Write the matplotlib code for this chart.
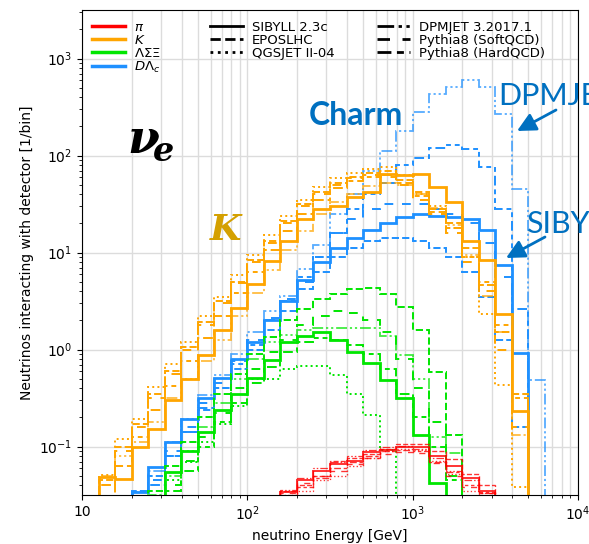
import numpy as np
import matplotlib
matplotlib.use('Agg')
import matplotlib.pyplot as plt
from matplotlib.lines import Line2D

# ---------------- data ----------------
log_edges = np.arange(1.0, 4.0001, 0.1)          # log10(E/GeV) bin edges, 10 bins/decade
edges = 10 ** log_edges

generators = ['SIBYLL 2.3c', 'EPOSLHC', 'QGSJET II-04',
              'DPMJET 3.2017.1', 'Pythia8 (SoftQCD)', 'Pythia8 (HardQCD)']
particle_labels = [r'$\pi$', r'$K$', r'$\Lambda\Sigma\Xi$', r'$D\Lambda_c$']

# pions
pi_sibyll = [0]*12 + [0.034, 0.045, 0.056, 0.066, 0.071, 0.087, 0.093, 0.10, 0.10, 0.079, 0.063, 0.047, 0.035] + [0]*5
pi_epos   = [0]*12 + [0.035, 0.040, 0.050, 0.071, 0.076, 0.083, 0.095, 0.105, 0.105, 0.089, 0.074, 0.052, 0.040] + [0]*5
pi_qgsjet = [0]*12 + [0.032, 0.035, 0.045, 0.050, 0.063, 0.076, 0.089, 0.095, 0.091, 0.071, 0.052, 0.035, 0] + [0]*5
pi_dpmjet = [0]*12 + [0.036, 0.047, 0.060, 0.069, 0.079, 0.091, 0.100, 0.102, 0.095, 0.076, 0.056, 0.045, 0.033] + [0]*5
pi_pysoft = [0]*12 + [0.033, 0.042, 0.050, 0.056, 0.066, 0.076, 0.083, 0.087, 0.085, 0.068, 0.050, 0.038, 0.033] + [0]*5
pi_pyhard = [0]*12 + [0.031, 0.038, 0.047, 0.060, 0.070, 0.080, 0.090, 0.093, 0.090, 0.070, 0.055, 0.040, 0.034] + [0]*5

# kaons
K_sibyll = [0, 0.048, 0.046, 0.10, 0.15, 0.30, 0.50, 0.87, 1.6, 2.7,
            4.7, 8.1, 13, 22, 28, 30, 37, 42, 65, 63,
            65, 47, 33, 13, 8.3, 2.3, 0.23, 0, 0, 0]
K_epos   = [0, 0.045, 0.10, 0.17, 0.35, 0.60, 1.07, 1.9, 3.2, 5.0,
            8.3, 13, 21, 32, 42, 52, 60, 66, 69, 56,
            42, 28, 20, 11, 4.6, 1.5, 0.35, 0, 0, 0]
K_qgsjet = [0, 0.051, 0.12, 0.19, 0.41, 0.71, 1.2, 2.2, 3.5, 5.8,
            9.5, 15, 24, 35, 47, 58, 66, 72, 76, 63,
            40, 30, 18, 8.9, 2.3, 0.43, 0.038, 0, 0, 0]
K_dpmjet = [0, 0.05, 0.079, 0.11, 0.18, 0.32, 0.50, 0.76, 1.26, 2.2,
            3.8, 6.6, 10.7, 16.6, 25, 33, 40, 48, 52, 50,
            40, 29, 19, 9.5, 3.6, 1.5, 0.13, 0, 0, 0]
K_pysoft = [0, 0, 0.089, 0.16, 0.32, 0.56, 1.0, 1.8, 3.0, 4.8,
            7.9, 12.6, 20, 30, 40, 50, 59, 63, 60, 50,
            35, 25, 16, 7.9, 4.0, 1.0, 0.16, 0, 0, 0]
K_pyhard = [0, 0.04, 0.063, 0.126, 0.24, 0.42, 0.76, 1.3, 2.2, 3.8,
            6.3, 10.5, 16.6, 25, 35, 46, 55, 60, 63, 52,
            38, 26, 18, 8.9, 5.0, 1.8, 0.32, 0, 0, 0]

# hyperons
L_sibyll = [0, 0, 0, 0, 0, 0.054, 0.089, 0.14, 0.24, 0.35,
            0.51, 0.78, 1.19, 1.38, 1.5, 1.26, 0.95, 0.72, 0.48, 0.32,
            0.13, 0.042, 0, 0, 0, 0, 0, 0, 0, 0]
L_epos   = [0, 0, 0, 0, 0.035, 0.063, 0.11, 0.20, 0.35, 0.56,
            0.89, 1.35, 2.0, 2.6, 3.3, 3.7, 4.2, 4.3, 3.7, 2.75,
            1.6, 0.58, 0.13, 0, 0, 0, 0, 0, 0, 0]
L_qgsjet = [0, 0, 0, 0, 0, 0.045, 0.069, 0.11, 0.17, 0.26,
            0.50, 0.50, 0.63, 0.68, 0.68, 0.54, 0.35, 0.21, 0.093, 0,
            0, 0, 0, 0, 0, 0, 0, 0, 0, 0]
L_dpmjet = [0, 0, 0, 0, 0.032, 0.05, 0.089, 0.16, 0.28, 0.50,
            0.79, 1.2, 1.4, 1.6, 1.66, 1.66, 1.66, 1.66, 1.38, 0.87,
            0.50, 0.126, 0.085, 0, 0, 0, 0, 0, 0, 0]
L_pysoft = [0, 0, 0, 0, 0, 0.04, 0.071, 0.126, 0.22, 0.40,
            0.63, 0.95, 1.26, 1.8, 2.2, 2.5, 2.4, 2.0, 1.5, 0.79,
            0.40, 0.18, 0.05, 0, 0, 0, 0, 0, 0, 0]
L_pyhard = [0, 0, 0, 0, 0, 0.035, 0.056, 0.10, 0.18, 0.28,
            0.45, 0.66, 0.95, 1.2, 1.3, 1.26, 1.12, 0.89, 0.63, 0.35,
            0.20, 0.10, 0.045, 0, 0, 0, 0, 0, 0, 0]

# charm
D_sibyll = [0, 0, 0, 0.034, 0.062, 0.11, 0.19, 0.32, 0.51, 0.79,
            1.2, 2.0, 3.2, 5.2, 7.9, 11, 14, 17, 20, 23,
            25, 24, 23, 22, 17, 7.4, 0.91, 0, 0, 0]
D_epos   = [0, 0, 0, 0.035, 0.05, 0.079, 0.14, 0.24, 0.40, 0.63,
            1.0, 1.6, 2.5, 4.2, 6.3, 8.9, 11, 13, 14, 14,
            13, 11, 8.9, 6.3, 3.5, 1.26, 0.16, 0, 0, 0]
D_qgsjet = [0] * 30
D_dpmjet = [0, 0, 0, 0.034, 0.056, 0.11, 0.19, 0.34, 0.55, 0.89,
            1.5, 2.5, 3.6, 6.8, 12, 25, 40, 70, 112, 181,
            280, 433, 514, 603, 513, 269, 45, 0.49, 0, 0]
D_pysoft = [0, 0, 0, 0, 0.045, 0.089, 0.16, 0.28, 0.45, 0.76,
            1.26, 2.1, 3.3, 5.0, 8.9, 16, 22, 28, 32, 32,
            32, 28, 25, 20, 12.6, 5.6, 0.35, 0, 0, 0]
D_pyhard = [0, 0, 0, 0, 0.04, 0.079, 0.14, 0.25, 0.40, 0.71,
            1.1, 2.0, 3.2, 5.6, 8.9, 16, 28, 40, 52, 79,
            95, 120, 129, 117, 76, 28, 2.6, 0, 0, 0]

series = {
    'pi': [pi_sibyll, pi_epos, pi_qgsjet, pi_dpmjet, pi_pysoft, pi_pyhard],
    'K':  [K_sibyll, K_epos, K_qgsjet, K_dpmjet, K_pysoft, K_pyhard],
    'L':  [L_sibyll, L_epos, L_qgsjet, L_dpmjet, L_pysoft, L_pyhard],
    'D':  [D_sibyll, D_epos, D_qgsjet, D_dpmjet, D_pysoft, D_pyhard],
}

# ---------------- style ----------------
colors = {'pi': '#ff0000', 'K': '#ffa500', 'L': '#00e600', 'D': '#1e90ff'}
gen_styles = ['-', '--', ':', (0, (6, 1.6, 1.2, 1.6, 1.2, 1.6)),
              (0, (4.5, 4.5)), (0, (5, 2, 2.5, 2, 2.5, 2))]
gen_lw = [2.0, 1.4, 1.4, 1.3, 1.4, 1.4]
gen_alpha = [1.0, 1.0, 1.0, 0.75, 1.0, 1.0]

W, H = 589, 544
fig = plt.figure(figsize=(W / 100, H / 100), dpi=100)
ax = fig.add_axes([82 / W, 1 - 495 / H, (578 - 82) / W, (495 - 10) / H])

floor = 1e-6
for key in ['D', 'L', 'K', 'pi']:
    for g, vals in enumerate(series[key]):
        v = np.asarray(vals, dtype=float)
        if not np.any(v > 0):
            continue
        v = np.where(v > 0, v, floor)
        lw = gen_lw[g] if key != 'pi' else gen_lw[g] * 0.7
        ax.stairs(v, edges, baseline=None, color=colors[key], ls=gen_styles[g],
                  lw=lw, alpha=gen_alpha[g] if key != 'pi' else 0.8)

ax.set_xscale('log')
ax.set_yscale('log')
ax.set_xlim(10, 1e4)
ax.set_ylim(10 ** -1.5, 10 ** 3.5)
ax.set_xticks([10, 100, 1000, 10000], labels=['10', r'$10^2$', r'$10^3$', r'$10^4$'])
ax.tick_params(labelsize=10)
ax.set_axisbelow(True)
ax.grid(True, which='major', color='#dcdcdc', lw=1)
ax.grid(True, which='minor', axis='x', color='#dcdcdc', lw=1)
ax.set_xlabel('neutrino Energy [GeV]', fontsize=10)
ax.set_ylabel('Neutrinos interacting with detector [1/bin]', fontsize=10)

# legends
leg_kw = dict(frameon=False, fontsize=9.5, labelspacing=0.0, borderpad=0,
              borderaxespad=0, handlelength=2.5, handletextpad=0.7, loc='upper left')
h1 = [Line2D([], [], color=colors[k], lw=2.5) for k in ['pi', 'K', 'L', 'D']]
l1 = ax.legend(h1, particle_labels, bbox_to_anchor=(92 / W, 1 - 21 / H),
               bbox_transform=fig.transFigure, **leg_kw)
ax.add_artist(l1)
h2 = [Line2D([], [], color='k', lw=2, ls=gen_styles[g]) for g in range(3)]
l2 = ax.legend(h2, generators[:3], bbox_to_anchor=(210 / W, 1 - 21 / H),
               bbox_transform=fig.transFigure, **leg_kw)
ax.add_artist(l2)
h3 = [Line2D([], [], color='k', lw=2, ls=gen_styles[g]) for g in range(3, 6)]
ax.legend(h3, generators[3:], bbox_to_anchor=(377 / W, 1 - 21 / H),
          bbox_transform=fig.transFigure, **leg_kw)

# annotations
def fp(x, y):
    return (x / W, 1 - y / H)

fig.text(*fp(127, 153), 'ν', fontsize=33, family='DejaVu Serif', weight='bold',
         style='italic', va='baseline', ha='left')
fig.text(*fp(153, 161), 'e', fontsize=24, family='DejaVu Serif', weight='bold',
         style='italic', va='baseline', ha='left')
fig.text(*fp(210, 240), 'K', fontsize=26, family='DejaVu Serif', weight='bold',
         style='italic', va='baseline', ha='left', color='#d4a000')
blue_txt = '#0070c0'
fig.text(*fp(309, 125), 'Charm', fontsize=23, family=['Lato', 'DejaVu Sans'],
         weight='bold', va='baseline', ha='left', color=blue_txt)
fig.text(*fp(498, 105), 'DPMJET', fontsize=22, family=['Lato', 'DejaVu Sans'],
         va='baseline', ha='left', color=blue_txt)
fig.text(*fp(526, 233), 'SIBYLL', fontsize=22, family=['Lato', 'DejaVu Sans'],
         va='baseline', ha='left', color=blue_txt)
arrow = dict(arrowstyle='-|>,head_length=0.8,head_width=0.4', color=blue_txt, lw=2,
             shrinkA=0, shrinkB=0, mutation_scale=14)
ax.annotate('', xy=fp(517, 131), xytext=fp(556, 110), xycoords='figure fraction',
            textcoords='figure fraction', arrowprops=arrow, annotation_clip=False)
ax.annotate('', xy=fp(506, 258), xytext=fp(545, 237), xycoords='figure fraction',
            textcoords='figure fraction', arrowprops=arrow, annotation_clip=False)

fig.savefig('out.png', dpi=100)
